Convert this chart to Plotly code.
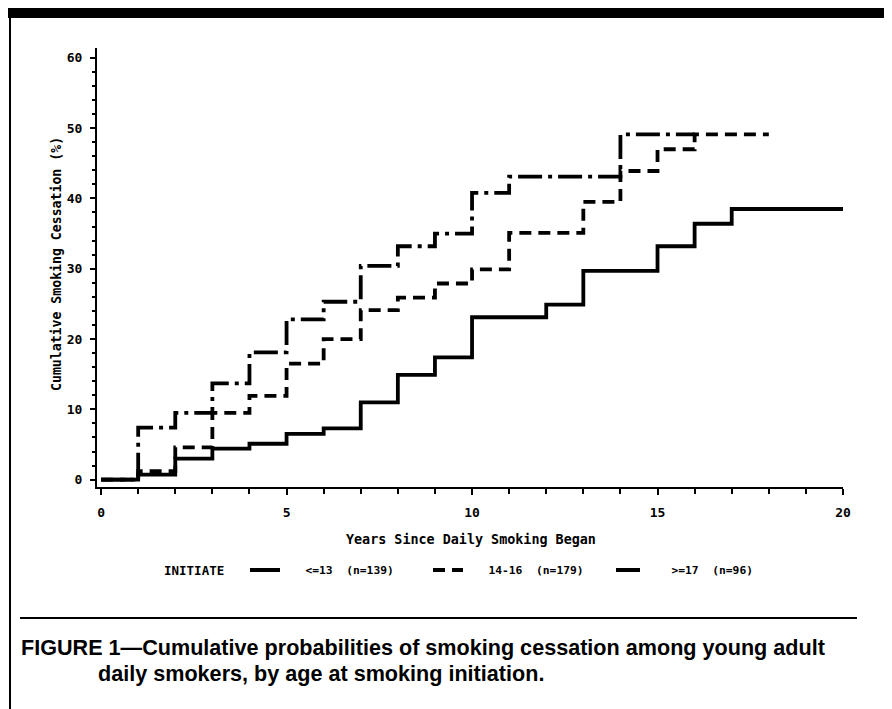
import plotly.graph_objects as go

# ---- data ----
groups = ["   <=13  (n=139)", "   14-16  (n=179)", "   >=17  (n=96)"]

years_le13 = [0, 1, 2, 3, 4, 5, 6, 7, 8, 9, 10, 12, 13, 15, 16, 17, 20]
cess_le13 = [0, 0.7, 3.0, 4.4, 5.1, 6.5, 7.3, 11.0, 14.9, 17.4, 23.1, 24.9, 29.7, 33.2, 36.4, 38.5, 38.5]

years_14_16 = [0, 1, 2, 3, 4, 5, 6, 7, 8, 9, 10, 11, 13, 14, 15, 16, 18]
cess_14_16 = [0, 1.2, 4.6, 9.5, 11.9, 16.5, 20.0, 24.1, 25.9, 27.9, 29.9, 35.1, 39.5, 43.9, 47.0, 49.1, 49.1]

years_ge17 = [0, 1, 2, 3, 4, 5, 6, 7, 8, 9, 10, 11, 14, 16]
cess_ge17 = [0, 7.4, 9.5, 13.7, 18.1, 22.8, 25.3, 30.4, 33.2, 35.0, 40.8, 43.1, 49.1, 49.1]

x_ticks = [0, 5, 10, 15, 20]
y_ticks = [0, 10, 20, 30, 40, 50, 60]

x_title = "Years Since Daily Smoking Began"
y_title = "Cumulative Smoking Cessation (%)"
legend_title = "INITIATE"
caption1 = "FIGURE 1\u2014Cumulative probabilities of smoking cessation among young adult"
caption2 = "daily smokers, by age at smoking initiation."

# ---- layout geometry (page body has an 8px margin) ----
OFF = 8
W, H = 892 - OFF, 709 - OFF
ML, MR, MT, MB = 97 - OFF, 49, 48 - OFF, 222
PW, PH = W - ML - MR, H - MT - MB


def px(x):
    return (x - OFF - ML) / PW


def py(y):
    return 1 - (y - OFF - MT) / PH


MONO = "DejaVu Sans Mono"

fig = go.Figure()
series = [
    (years_le13, cess_le13, groups[0], "solid"),
    (years_14_16, cess_14_16, groups[1], "12px,7px"),
    (years_ge17, cess_ge17, groups[2], "24px,6px,4px,6px"),
]
for xs, ys, name, dash in series:
    fig.add_trace(go.Scatter(
        x=xs, y=ys, name=name, mode="lines",
        line=dict(shape="hv", color="black", width=3.8, dash=dash),
    ))

fig.update_layout(
    width=W, height=H,
    margin=dict(l=ML, r=MR, t=MT, b=MB),
    paper_bgcolor="white", plot_bgcolor="white",
    font=dict(family=MONO, color="black", size=11),
    showlegend=True,
    legend=dict(
        orientation="h", x=px(245), xanchor="left", y=py(570), yanchor="middle",
        font=dict(family=MONO, size=11.3, weight="bold"),
        entrywidth=138, itemwidth=30,
        bgcolor="rgba(0,0,0,0)",
    ),
    xaxis=dict(
        range=[-0.11, 20.0], showgrid=False, zeroline=False,
        showline=True, linecolor="black", linewidth=2,
        tickmode="array", tickvals=x_ticks, ticktext=["<b>%d</b>" % v for v in x_ticks],
        ticks="outside", ticklen=6, tickwidth=2, tickcolor="black",
        ticklabelstandoff=6,
        tickfont=dict(family=MONO, size=13),
        minor=dict(dtick=1, ticks="outside", ticklen=5, tickwidth=1.5, tickcolor="black"),
    ),
    yaxis=dict(
        range=[-1.05, 61.4], showgrid=False, zeroline=False,
        showline=True, linecolor="black", linewidth=2,
        tickmode="array", tickvals=y_ticks, ticktext=["<b>%d</b>" % v for v in y_ticks],
        ticks="outside", ticklen=5, tickwidth=2, tickcolor="black",
        ticklabelstandoff=5,
        tickfont=dict(family=MONO, size=13),
        minor=dict(dtick=2, ticks="outside", ticklen=3, tickwidth=1.5, tickcolor="black"),
    ),
)

ann = [
    dict(text="<b>" + x_title + "</b>", x=px(471), y=py(539), xanchor="center", yanchor="middle",
         font=dict(family=MONO, size=13.4)),
    dict(text="<b>" + y_title + "</b>", x=px(57), y=py(264), xanchor="center", yanchor="middle",
         textangle=-90, font=dict(family=MONO, size=13.2)),
    dict(text="<b>" + legend_title + "</b>", x=px(162), y=py(570), xanchor="left", yanchor="middle",
         font=dict(family=MONO, size=12.5)),
    dict(text="<b>" + caption1 + "</b>", x=px(19), y=py(647), xanchor="left", yanchor="middle",
         font=dict(family="Liberation Sans", size=21.6)),
    dict(text="<b>" + caption2 + "</b>", x=px(96), y=py(673), xanchor="left", yanchor="middle",
         font=dict(family="Liberation Sans", size=21.6)),
]
for a in ann:
    fig.add_annotation(xref="paper", yref="paper", showarrow=False, **a)

shapes = [
    dict(type="rect", x0=px(8), x1=px(889), y0=py(7), y1=py(18), fillcolor="black", line=dict(width=0)),
    dict(type="line", x0=px(10), x1=px(10), y0=py(18), y1=py(712), line=dict(color="black", width=2)),
    dict(type="line", x0=px(887.5), x1=px(887.5), y0=py(18), y1=py(712), line=dict(color="black", width=3)),
    dict(type="line", x0=px(20), x1=px(857), y0=py(618), y1=py(618), line=dict(color="black", width=2)),
]
for s in shapes:
    fig.add_shape(xref="paper", yref="paper", **s)

fig.write_html("out.html")
